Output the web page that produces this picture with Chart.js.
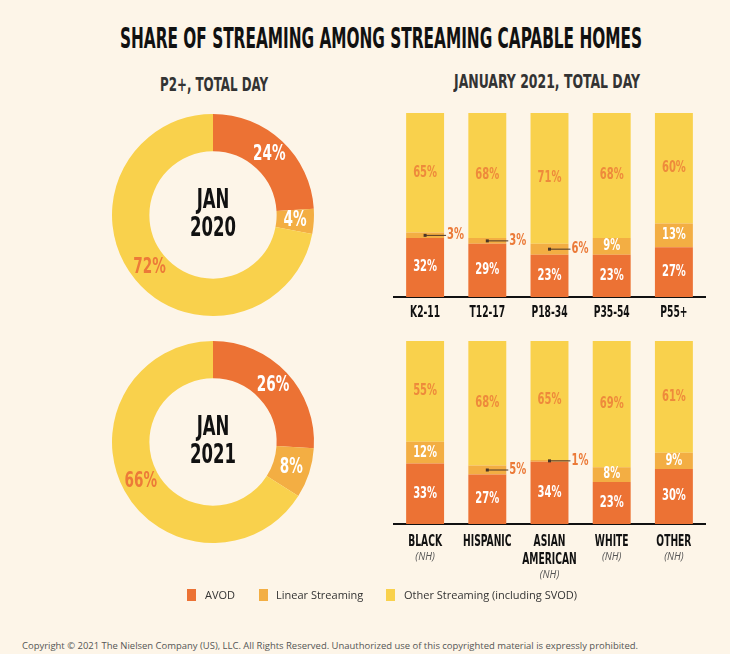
<!DOCTYPE html>
<html>
<head>
<meta charset="utf-8">
<script src="https://cdn.jsdelivr.net/npm/chart.js@4.4.1/dist/chart.umd.min.js"></script>
<style>
  html, body { margin: 0; padding: 0; }
  body {
    width: 730px; height: 654px; position: relative; overflow: hidden;
    background: #fdf5e8; font-family: "Open Sans", sans-serif;
  }
  .cond {
    position: absolute; white-space: nowrap; line-height: 1;
    font-family: "Liberation Sans Narrow", "DejaVu Sans Condensed", sans-serif;
    font-weight: bold; transform-origin: 0 50%;
  }
  canvas { position: absolute; }
  .legend { position: absolute; top: 588px; left: 0; font-size: 11px; color: #333; }
  .legend span { position: absolute; white-space: nowrap; line-height: 14px; }
  .legend i { position: absolute; width: 9px; height: 12px; top: 1px; }
  .copy { position: absolute; left: 22px; top: 639px; font-size: 9px; color: #555; white-space: nowrap; transform-origin: 0 50%; }
</style>
</head>
<body>
<div class="cond" id="title" style="left:120px; top:25px; font-size:28px; color:#111;">SHARE OF STREAMING AMONG STREAMING CAPABLE HOMES</div>
<div class="cond" id="sub1" style="left:160px; top:74px; font-size:20px; color:#333;">P2+, TOTAL DAY</div>
<div class="cond" id="sub2" style="left:454px; top:71px; font-size:20px; color:#333;">JANUARY 2021, TOTAL DAY</div>

<canvas id="donut2020" width="220" height="220" style="left:103px; top:105px;"></canvas>
<canvas id="donut2021" width="220" height="220" style="left:103px; top:332px;"></canvas>
<canvas id="ageChart" width="330" height="230" style="left:390px; top:100px;"></canvas>
<canvas id="ethnicChart" width="330" height="260" style="left:390px; top:328px;"></canvas>

<div class="legend">
  <i style="left:187px; background:#ec7234;"></i><span style="left:205px;">AVOD</span>
  <i style="left:259px; background:#f3ae43;"></i><span style="left:276px;">Linear Streaming</span>
  <i style="left:386px; background:#f9d14c;"></i><span style="left:404px;">Other Streaming (including SVOD)</span>
</div>
<div class="copy" id="copy">Copyright © 2021 The Nielsen Company (US), LLC. All Rights Reserved. Unauthorized use of this copyrighted material is expressly prohibited.</div>

<script>
// Streaming share data
const seriesNames = ['AVOD', 'Linear Streaming', 'Other Streaming (including SVOD)'];
const seriesColors = ['#ec7234', '#f3ae43', '#f9d14c'];

const jan2020 = [24, 4, 72];
const jan2021 = [26, 8, 66];

const ageGroups = [['K2-11'], ['T12-17'], ['P18-34'], ['P35-54'], ['P55+']];
const ageAvod = [32, 29, 23, 23, 27];
const ageLinear = [3, 3, 6, 9, 13];
const ageOther = [65, 68, 71, 68, 60];

const ethnicGroups = [['BLACK', '(NH)'], ['HISPANIC'], ['ASIAN', 'AMERICAN', '(NH)'], ['WHITE', '(NH)'], ['OTHER', '(NH)']];
const ethnicAvod = [33, 27, 34, 23, 30];
const ethnicLinear = [12, 5, 1, 8, 9];
const ethnicOther = [55, 68, 65, 69, 61];

const COND = '"Liberation Sans Narrow", "DejaVu Sans Condensed", sans-serif';

// squeeze html text to the width it has in the picture
function fitText(id, width) {
    const el = document.getElementById(id);
    const w = el.getBoundingClientRect().width;
    el.style.transform = 'scaleX(' + (width / w) + ')';
}
fitText('title', 522);
fitText('sub1', 108);
fitText('sub2', 186);
fitText('copy', 616);

function drawCond(ctx, text, x, y, size, color, align, sx) {
    ctx.save();
    ctx.font = 'bold ' + size + 'px ' + COND;
    ctx.fillStyle = color;
    ctx.textBaseline = 'middle';
    ctx.textAlign = align;
    ctx.translate(x, y);
    ctx.scale(sx, 1);
    ctx.fillText(text, 0, 0);
    ctx.restore();
}

// Donut labels + center text
const donutText = {
    id: 'donutText',
    afterDatasetsDraw(chart, args, opts) {
        const ctx = chart.ctx;
        const data = chart.data.datasets[0].data;
        const arcs = chart.getDatasetMeta(0).data;
        arcs.forEach((arc, j) => {
            const p = arc.tooltipPosition();
            drawCond(ctx, data[j] + '%', p.x, p.y, 21, opts.colors[j], 'center', 0.72);
        });
        const cx = arcs[0].x, cy = arcs[0].y;
        drawCond(ctx, opts.center[0], cx, cy - 14, 27, '#111', 'center', 0.68);
        drawCond(ctx, opts.center[1], cx, cy + 14, 27, '#111', 'center', 0.68);
    }
};

function createDonut(id, values, center) {
    new Chart(document.getElementById(id), {
        type: 'doughnut',
        data: {
            labels: seriesNames,
            datasets: [{
                data: values,
                backgroundColor: seriesColors,
                borderWidth: 0
            }]
        },
        options: {
            responsive: false,
            animation: false,
            cutout: '63%',
            layout: { padding: 9 },
            plugins: {
                legend: { display: false },
                tooltip: { enabled: false },
                donutText: { center: center, colors: ['#ffffff', '#ffffff', '#ec7a38'] }
            }
        },
        plugins: [donutText]
    });
}

// Percent labels on the stacked bars, with leader lines for thin segments
const barLabels = {
    id: 'barLabels',
    afterDatasetsDraw(chart, args, opts) {
        const ctx = chart.ctx;
        chart.data.datasets.forEach((ds, i) => {
            chart.getDatasetMeta(i).data.forEach((bar, j) => {
                const v = ds.data[j];
                const mid = (bar.y + bar.base) / 2;
                if (v <= 6) {
                    const x1 = bar.x + bar.width / 2 + 2;
                    ctx.save();
                    ctx.strokeStyle = '#4a3526';
                    ctx.lineWidth = 1;
                    ctx.beginPath();
                    ctx.moveTo(bar.x, mid);
                    ctx.lineTo(x1, mid);
                    ctx.stroke();
                    ctx.fillStyle = '#4a3526';
                    ctx.fillRect(bar.x - 1.5, mid - 1.5, 3, 3);
                    ctx.restore();
                    drawCond(ctx, v + '%', x1 + 1, mid, 15, '#eb7a38', 'left', 0.74);
                } else {
                    drawCond(ctx, v + '%', bar.x, mid, 15, opts.colors[i], 'center', 0.74);
                }
            });
        });
    }
};

// Category names under the axis (bold name lines, then grey italic "(NH)")
const tickLabels = {
    id: 'tickLabels',
    afterDraw(chart, args, opts) {
        const ctx = chart.ctx;
        const xs = chart.scales.x;
        opts.groups.forEach((lines, i) => {
            const x = xs.getPixelForValue(i);
            let y = chart.chartArea.bottom + opts.first;
            lines.forEach((line, k) => {
                if (line === '(NH)') {
                    y += (k === 0 ? 0 : 15 - 18);
                    ctx.save();
                    ctx.font = 'italic 10px "Open Sans", sans-serif';
                    ctx.fillStyle = '#555';
                    ctx.textAlign = 'center';
                    ctx.textBaseline = 'middle';
                    ctx.fillText(line, x, y);
                    ctx.restore();
                } else {
                    drawCond(ctx, line, x, y, 15, '#111', 'center', 0.68);
                }
                y += 18;
            });
        });
    }
};

function createStackedBars(id, groups, avod, linear, other, axisHeight, first) {
    new Chart(document.getElementById(id), {
        type: 'bar',
        data: {
            labels: groups.map(g => g.join(' ')),
            datasets: [
                { label: seriesNames[0], data: avod, backgroundColor: seriesColors[0] },
                { label: seriesNames[1], data: linear, backgroundColor: seriesColors[1] },
                { label: seriesNames[2], data: other, backgroundColor: seriesColors[2] }
            ]
        },
        options: {
            responsive: false,
            animation: false,
            layout: { padding: { left: 4, right: 15, top: 13, bottom: 0 } },
            datasets: { bar: { barPercentage: 0.61, categoryPercentage: 1, borderWidth: 0 } },
            plugins: {
                legend: { display: false },
                tooltip: { enabled: false },
                barLabels: { colors: ['#ffffff', '#ffffff', '#ee8a3b'] },
                tickLabels: { groups: groups, first: first }
            },
            scales: {
                x: {
                    stacked: true,
                    grid: { display: false },
                    ticks: { display: false },
                    border: { display: true, color: '#111', width: 2 },
                    afterFit(scale) { scale.height = axisHeight; }
                },
                y: {
                    stacked: true,
                    display: false,
                    min: 0,
                    max: 100
                }
            }
        },
        plugins: [barLabels, tickLabels]
    });
}

createDonut('donut2020', jan2020, ['JAN', '2020']);
createDonut('donut2021', jan2021, ['JAN', '2021']);
createStackedBars('ageChart', ageGroups, ageAvod, ageLinear, ageOther, 33, 16);
createStackedBars('ethnicChart', ethnicGroups, ethnicAvod, ethnicLinear, ethnicOther, 64, 18);
</script>
</body>
</html>
